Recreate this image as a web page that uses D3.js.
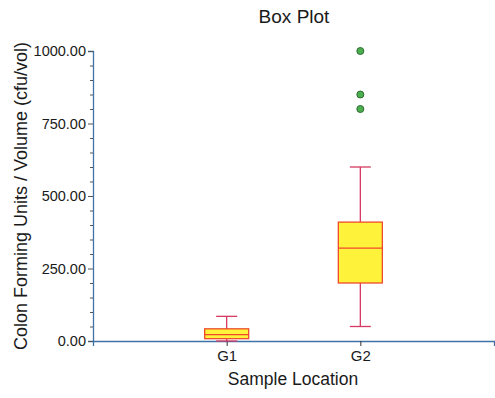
<!DOCTYPE html>
<html>
  <head>
    <meta charset="utf-8">
    <title>Box Plot</title>
    <script src="https://d3js.org/d3.v7.min.js"></script>
    <style>
      body { margin: 0; background: #fff; }
      text { font-family: "Liberation Sans", Arial, sans-serif; fill: #1a1a1a; }
    </style>
  </head>
  <body>
    <script>
        // data
        var categories = ["G1", "G2"];
        var lowWhisker = [0, 50];
        var q1 = [8, 200];
        var median = [22, 320];
        var q3 = [42, 410];
        var highWhisker = [85, 600];
        var outliers = [[], [1000, 850, 800]];
        var yTicks = [0, 250, 500, 750, 1000];

        var width = 495, height = 398;
        var margin = {left: 93, right: 1, top: 51, bottom: 57};

        var svg = d3.select("body").append("svg")
            .attr("width", width)
            .attr("height", height);

        var xScale = d3.scalePoint()
            .domain(categories)
            .range([margin.left, width - margin.right])
            .padding(1);
        var yScale = d3.scaleLinear()
            .domain([0, 1000])
            .range([height - margin.bottom, margin.top]);

        var axisColor = "#3f72a6";

        // y axis: majors every 250, minors every 50
        var yAxis = svg.append("g")
            .attr("transform", "translate(" + margin.left + ",0)")
            .call(d3.axisLeft(yScale).tickValues(yTicks).tickSize(5).tickPadding(2)
                .tickFormat(d3.format(".2f")));
        svg.append("g")
            .attr("transform", "translate(" + margin.left + ",0)")
            .call(d3.axisLeft(yScale).tickValues(d3.range(0, 1001, 50).filter(function(d){ return d % 250; }))
                .tickSize(3).tickFormat(""))
            .call(function(g){ g.select(".domain").remove(); })
            .selectAll("line").attr("stroke", "#555");
        yAxis.select(".domain").attr("stroke", axisColor).attr("stroke-width", 1.3);
        yAxis.selectAll(".tick line").attr("stroke", "#555");
        yAxis.selectAll("text").style("font-size", "14.5px").attr("fill", "#1a1a1a");

        var xAxis = svg.append("g")
            .attr("transform", "translate(0," + (height - margin.bottom) + ")")
            .call(d3.axisBottom(xScale).tickSize(5).tickPadding(4).tickSizeOuter(5));
        xAxis.select(".domain").attr("stroke", axisColor).attr("stroke-width", 1.3);
        xAxis.selectAll(".tick line").attr("stroke", "#333");
        xAxis.selectAll("text").style("font-size", "15px").attr("fill", "#1a1a1a");

        var boxW = 44, capW = 21;
        var idx = d3.range(categories.length);
        var boxes = svg.append("g");

        // whiskers
        boxes.selectAll("line.whisker")
            .data(idx).enter().append("line")
            .attr("class", "whisker")
            .attr("x1", function(i){ return xScale(categories[i]); })
            .attr("x2", function(i){ return xScale(categories[i]); })
            .attr("y1", function(i){ return yScale(lowWhisker[i]); })
            .attr("y2", function(i){ return yScale(highWhisker[i]); })
            .attr("stroke", "#d63a62").attr("stroke-width", 1.3);
        [lowWhisker, highWhisker].forEach(function(arr){
            boxes.selectAll(null)
                .data(idx).enter().append("line")
                .attr("x1", function(i){ return xScale(categories[i]) - capW / 2; })
                .attr("x2", function(i){ return xScale(categories[i]) + capW / 2; })
                .attr("y1", function(i){ return yScale(arr[i]); })
                .attr("y2", function(i){ return yScale(arr[i]); })
                .attr("stroke", "#d63a62").attr("stroke-width", 1.3);
        });

        boxes.selectAll("rect")
            .data(idx).enter().append("rect")
            .attr("x", function(i){ return xScale(categories[i]) - boxW / 2; })
            .attr("width", boxW)
            .attr("y", function(i){ return yScale(q3[i]); })
            .attr("height", function(i){ return yScale(q1[i]) - yScale(q3[i]); })
            .attr("fill", "#fff23a")
            .attr("stroke", "#ee4a2c").attr("stroke-width", 1.3);

        boxes.selectAll("line.median")
            .data(idx).enter().append("line")
            .attr("class", "median")
            .attr("x1", function(i){ return xScale(categories[i]) - boxW / 2; })
            .attr("x2", function(i){ return xScale(categories[i]) + boxW / 2; })
            .attr("y1", function(i){ return yScale(median[i]); })
            .attr("y2", function(i){ return yScale(median[i]); })
            .attr("stroke", "#ee4a2c").attr("stroke-width", 1.3);

        var pts = [];
        idx.forEach(function(i){ outliers[i].forEach(function(v){ pts.push([categories[i], v]); }); });
        svg.selectAll("circle.out")
            .data(pts).enter().append("circle")
            .attr("class", "out")
            .attr("cx", function(d){ return xScale(d[0]); })
            .attr("cy", function(d){ return yScale(d[1]); })
            .attr("r", 3.5)
            .attr("fill", "#4caf50")
            .attr("stroke", "#2e6b30").attr("stroke-width", 1);

        svg.append("text")
            .attr("x", 294).attr("y", 23)
            .attr("text-anchor", "middle")
            .style("font-size", "19px")
            .text("Box Plot");
        svg.append("text")
            .attr("x", 293).attr("y", 385)
            .attr("text-anchor", "middle")
            .style("font-size", "17.5px")
            .text("Sample Location");
        svg.append("text")
            .attr("transform", "translate(27,196) rotate(-90)")
            .attr("text-anchor", "middle")
            .style("font-size", "18px")
            .text("Colon Forming Units / Volume (cfu/vol)");
    </script>
  </body>
</html>
